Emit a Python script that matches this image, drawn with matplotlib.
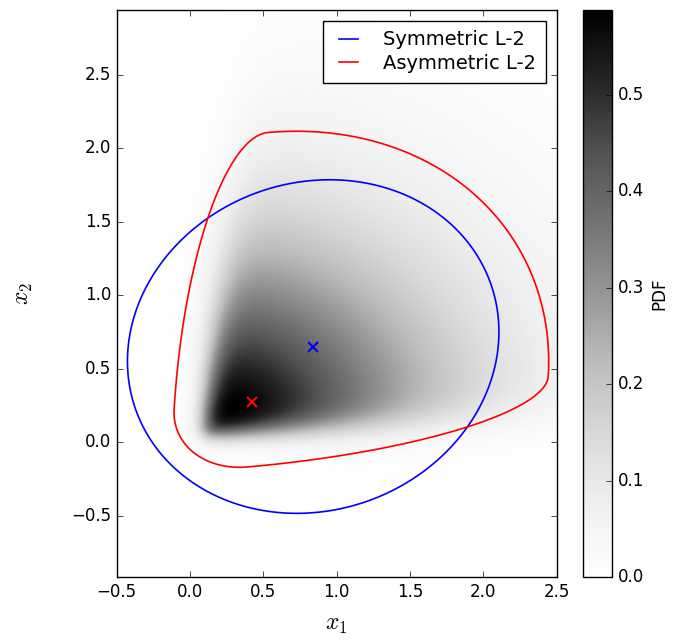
import numpy as np
import matplotlib
matplotlib.use('Agg')
import matplotlib.pyplot as plt

plt.style.use('classic')

# pdf model: soft wedge (left / bottom edges) times a radial decay from its corner
pdf_corner = [0.10, 0.05]
pdf_left_edge = [0.08, 0.12]     # x = a + b*x2
pdf_bottom_edge = [0.04, 0.06]   # y = a + b*x1
pdf_edge_width = [0.04, 0.04]    # grows with distance from the corner
pdf_decay_scale = [1.5, 1.25]
pdf_decay_power = 1.6
pdf_peak = 0.588

# symmetric L-2 ball (center + shape matrix)
sym_center = [0.84, 0.65]
sym_shape = [[1.603, 0.127], [0.127, 1.288]]

# asymmetric L-2 ball: two axis directions (deg), radii on + and - side
asym_center = [0.42, 0.27]
asym_angles = [5.0, 86.5]
asym_pos = [2.03, 1.84]
asym_neg = [0.53, 0.44]

xlim = [-0.5, 2.5]
ylim = [-0.92, 2.94]
ticks = [-0.5, 0.0, 0.5, 1.0, 1.5, 2.0, 2.5]
cbar_ticks = [0.0, 0.1, 0.2, 0.3, 0.4, 0.5]

xs = np.linspace(xlim[0], xlim[1], 700)
ys = np.linspace(ylim[0], ylim[1], 900)
X, Y = np.meshgrid(xs, ys)

# pdf
dx = X - pdf_corner[0]
dy = Y - pdf_corner[1]
r = np.sqrt((dx/pdf_decay_scale[0])**2 + (dy/pdf_decay_scale[1])**2)
w = pdf_edge_width[0] + pdf_edge_width[1]*r
xe = pdf_left_edge[0] + pdf_left_edge[1]*Y
ye = pdf_bottom_edge[0] + pdf_bottom_edge[1]*X
left = 1/(1 + np.exp(-(X - xe)/w))
bottom = 1/(1 + np.exp(-(Y - ye)/w))
pdf = left*bottom*np.exp(-r**pdf_decay_power)
pdf = pdf * pdf_peak / pdf.max()

# symmetric norm
S = np.linalg.inv(np.array(sym_shape))
dx = X - sym_center[0]
dy = Y - sym_center[1]
sym_norm = np.sqrt(S[0, 0]*dx**2 + 2*S[0, 1]*dx*dy + S[1, 1]*dy**2)

# asymmetric norm
t = np.radians(asym_angles)
A = np.array([[np.cos(t[0]), np.cos(t[1])], [np.sin(t[0]), np.sin(t[1])]])
Ai = np.linalg.inv(A)
dx = X - asym_center[0]
dy = Y - asym_center[1]
z1 = Ai[0, 0]*dx + Ai[0, 1]*dy
z2 = Ai[1, 0]*dx + Ai[1, 1]*dy
s1 = np.where(z1 >= 0, asym_pos[0], asym_neg[0])
s2 = np.where(z2 >= 0, asym_pos[1], asym_neg[1])
asym_norm = np.sqrt((z1/s1)**2 + (z2/s2)**2)

fig = plt.figure(figsize=(6.86, 6.42), dpi=100, facecolor='white')
ax = fig.add_axes([0.170, 0.1008, 0.6415, 0.8836])

im = ax.imshow(pdf, extent=[xlim[0], xlim[1], ylim[0], ylim[1]], origin='lower',
               cmap='Greys', vmin=0, vmax=pdf_peak, aspect='auto', interpolation='bilinear')

ax.contour(X, Y, sym_norm, levels=[1.0], colors='b', linewidths=1.2)
ax.contour(X, Y, asym_norm, levels=[1.0], colors='r', linewidths=1.2)
ax.plot([], [], 'b-', lw=1.2, label='Symmetric L-2')
ax.plot([], [], 'r-', lw=1.2, label='Asymmetric L-2')

ax.plot(sym_center[0], sym_center[1], 'bx', ms=7, mew=1.5)
ax.plot(asym_center[0], asym_center[1], 'rx', ms=7, mew=1.5)

ax.set_xlim(xlim)
ax.set_ylim(ylim)
ax.set_xticks(ticks)
ax.set_yticks(ticks)
ax.tick_params(labelsize=12)
ax.set_xlabel('$x_1$', fontsize=17, labelpad=8)
ax.set_ylabel('$x_2$', fontsize=17, labelpad=26)
ax.legend(loc='upper right', fontsize=14, handlelength=1.6, handletextpad=1.0,
          borderpad=0.5, labelspacing=0.25, borderaxespad=0.55)

cax = fig.add_axes([0.850, 0.1008, 0.042, 0.8836])
cb = fig.colorbar(im, cax=cax)
cb.set_ticks(cbar_ticks)
cb.ax.tick_params(labelsize=12)
cb.set_label('PDF', fontsize=12)

fig.savefig('out.png', dpi=100, facecolor='white')
